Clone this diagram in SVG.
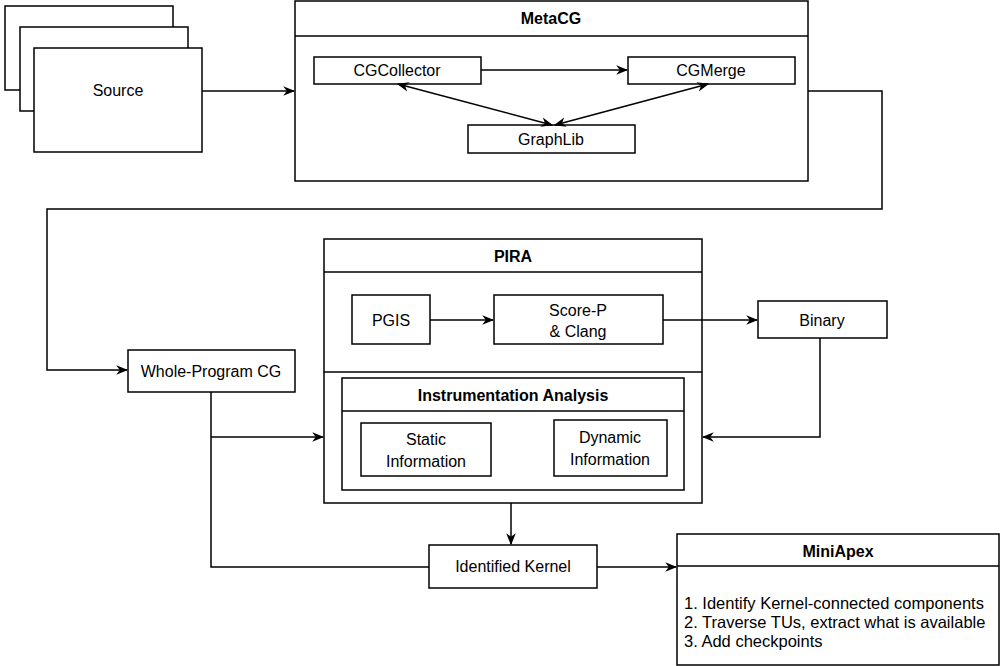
<svg xmlns="http://www.w3.org/2000/svg" width="1000" height="666" viewBox="0 0 1000 666">
<style>
rect{fill:#fff;stroke:#000;stroke-width:1.5}
text{font-family:"Liberation Sans",Arial,sans-serif;font-size:16px;text-anchor:middle;fill:#000}
.b{font-weight:bold}
.l{text-anchor:start;font-size:16.5px}
.c{fill:none;stroke:#000;stroke-width:1.5}
</style>
<defs>
<marker id="a" viewBox="0 0 10 10" refX="9" refY="5" markerWidth="8" markerHeight="8" orient="auto-start-reverse"><path d="M0,1 L10,5 L0,9 L3,5 Z" fill="#000"/></marker>
</defs>
<rect x="0" y="0" width="1000" height="666" style="fill:#fff;stroke:none"/>
<g id="source">
<rect x="5" y="6" width="168" height="84"/>
<rect x="20" y="27" width="168" height="84"/>
<rect x="34" y="48" width="168" height="104"/>
<text x="118" y="96">Source</text>
</g>
<g id="metacg">
<rect x="295" y="1" width="513" height="180"/>
<line x1="295" y1="36" x2="808" y2="36" class="c"/>
<text x="551" y="24" class="b">MetaCG</text>
</g>
<g id="cgcollector"><rect x="314" y="57" width="167" height="27"/><text x="397" y="76">CGCollector</text></g>
<g id="cgmerge"><rect x="628" y="57" width="167" height="27"/><text x="711" y="76">CGMerge</text></g>
<g id="graphlib"><rect x="468" y="125" width="167" height="28"/><text x="551" y="145">GraphLib</text></g>
<g id="wpcg"><rect x="128" y="350" width="167" height="42"/><text x="211" y="377">Whole-Program CG</text></g>
<g id="pira">
<rect x="324" y="239" width="378" height="264"/>
<line x1="324" y1="272" x2="702" y2="272" class="c"/>
<line x1="324" y1="372" x2="702" y2="372" class="c"/>
<text x="513" y="262" class="b">PIRA</text>
</g>
<g id="pgis"><rect x="352" y="295" width="78" height="49"/><text x="391" y="326">PGIS</text></g>
<g id="scorep"><rect x="494" y="295" width="169" height="49"/><text x="578" y="316">Score-P</text><text x="578" y="337">&amp; Clang</text></g>
<g id="binary"><rect x="758" y="301" width="129" height="37"/><text x="822" y="326">Binary</text></g>
<g id="instr">
<rect x="342" y="378" width="342" height="112"/>
<line x1="342" y1="411" x2="684" y2="411" class="c"/>
<text x="513" y="401" class="b">Instrumentation Analysis</text>
</g>
<g id="static"><rect x="361" y="423" width="130" height="53"/><text x="426" y="445">Static</text><text x="426" y="467">Information</text></g>
<g id="dynamic"><rect x="554" y="420" width="113" height="56"/><text x="610" y="443">Dynamic</text><text x="610" y="465">Information</text></g>
<g id="kernel"><rect x="429" y="545" width="168" height="43"/><text x="513" y="572">Identified Kernel</text></g>
<g id="miniapex">
<rect x="677" y="534" width="322" height="131"/>
<line x1="677" y1="566" x2="999" y2="566" class="c"/>
<text x="838" y="557" class="b">MiniApex</text>
<text x="684" y="609" class="l">1. Identify Kernel-connected components</text>
<text x="684" y="628" class="l">2. Traverse TUs, extract what is available</text>
<text x="684" y="647" class="l">3. Add checkpoints</text>
</g>
<g id="connectors">
<path d="M202,91 H294" class="c" marker-end="url(#a)"/>
<path d="M481,70 H627" class="c" marker-end="url(#a)"/>
<path d="M398,84 L552,125" class="c" marker-start="url(#a)" marker-end="url(#a)"/>
<path d="M708,84 L555,125" class="c" marker-start="url(#a)" marker-end="url(#a)"/>
<path d="M808,91 H882 V209 H47 V370 H127" class="c" marker-end="url(#a)"/>
<path d="M430,320 H493" class="c" marker-end="url(#a)"/>
<path d="M663,320 H757" class="c" marker-end="url(#a)"/>
<path d="M820,338 V437 H703" class="c" marker-end="url(#a)"/>
<path d="M211,392 V567 H429" class="c"/>
<path d="M211,437 H323" class="c" marker-end="url(#a)"/>
<path d="M511,503 V544" class="c" marker-end="url(#a)"/>
<path d="M597,567 H676" class="c" marker-end="url(#a)"/>
</g>
</svg>
